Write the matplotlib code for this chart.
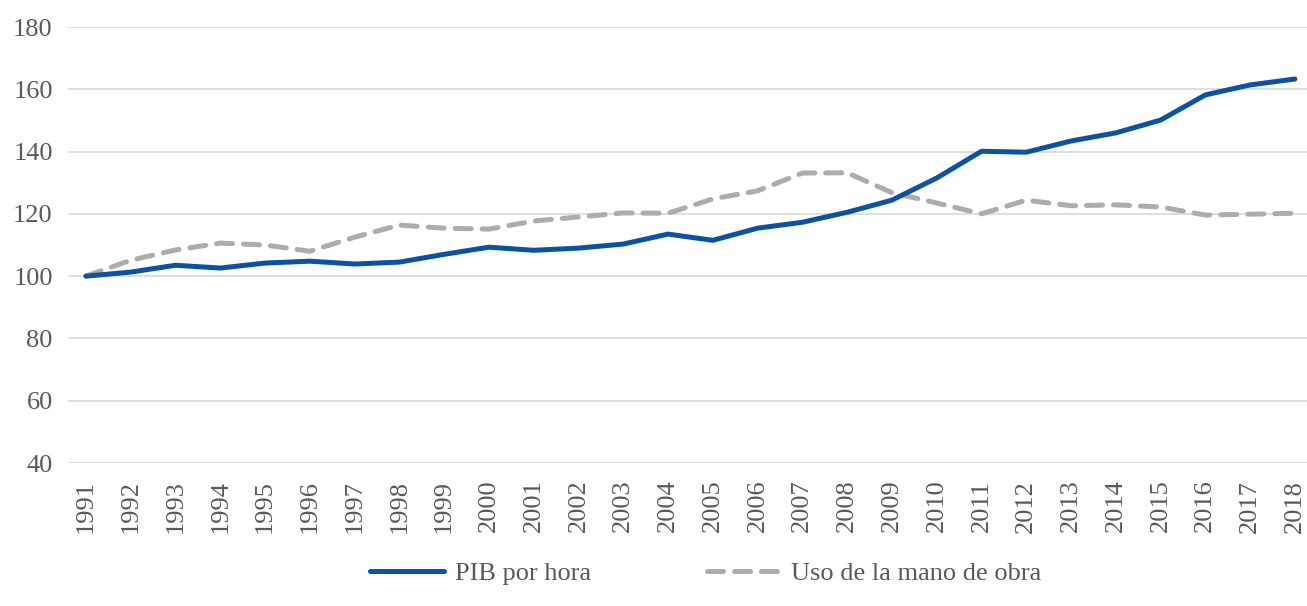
import matplotlib
matplotlib.use("Agg")
import matplotlib.pyplot as plt

# data
years = list(range(1991, 2019))
pib_por_hora = [100.0, 101.3, 103.5, 102.6, 104.2, 104.8, 103.9, 104.5, 107.0, 109.3,
                108.3, 109.0, 110.3, 113.5, 111.5, 115.4, 117.3, 120.5, 124.4, 131.5,
                140.1, 139.8, 143.4, 146.0, 150.1, 158.2, 161.4, 163.3]
uso_mano_obra = [100.0, 105.1, 108.4, 110.6, 110.0, 108.0, 112.5, 116.4, 115.4, 115.1,
                 117.7, 119.0, 120.3, 120.2, 124.8, 127.4, 133.1, 133.2, 126.8, 123.5,
                 120.0, 124.4, 122.6, 122.9, 122.2, 119.6, 119.9, 120.2]
y_ticks = [40, 60, 80, 100, 120, 140, 160, 180]

BLUE = "#0A52A5"
GRAY = "#AEABAB"
TEXT = "#595959"

plt.rcParams["font.family"] = ["Liberation Serif", "DejaVu Serif"]

fig = plt.figure(figsize=(13.07, 6.06), dpi=100)
ax = fig.add_axes([68 / 1307, 1 - 463 / 606, 1 - 68 / 1307, (463 - 27) / 606])

ax.plot(years, pib_por_hora, color=BLUE, lw=3.6, solid_capstyle="round",
        label="PIB por hora", zorder=3)
ax.plot(years, uso_mano_obra, color=GRAY, lw=3.6, linestyle=(0, (3.2, 2.2)),
        dash_capstyle="round", label="Uso de la mano de obra", zorder=2)

ax.set_ylim(40, 180)
ax.set_xlim(1991 - 0.40, 2018 + 0.27)
ax.set_yticks(y_ticks)
ax.set_xticks(years)
ax.set_xticklabels([str(y) for y in years], rotation=90)
ax.tick_params(axis="both", length=0, labelsize=19, colors=TEXT)
ax.tick_params(axis="y", pad=11)
ax.tick_params(axis="x", pad=12)

ax.grid(axis="y", color="#D9D9D9", lw=1.2)
ax.set_axisbelow(True)
for s in ax.spines.values():
    s.set_visible(False)

leg = fig.legend(loc="lower center", bbox_to_anchor=(0.54, -0.005), ncol=2, frameon=False,
                 fontsize=19, handlelength=2.8, columnspacing=4.4, handletextpad=0.4)
for t in leg.get_texts():
    t.set_color(TEXT)

fig.savefig("out.png", dpi=100)
